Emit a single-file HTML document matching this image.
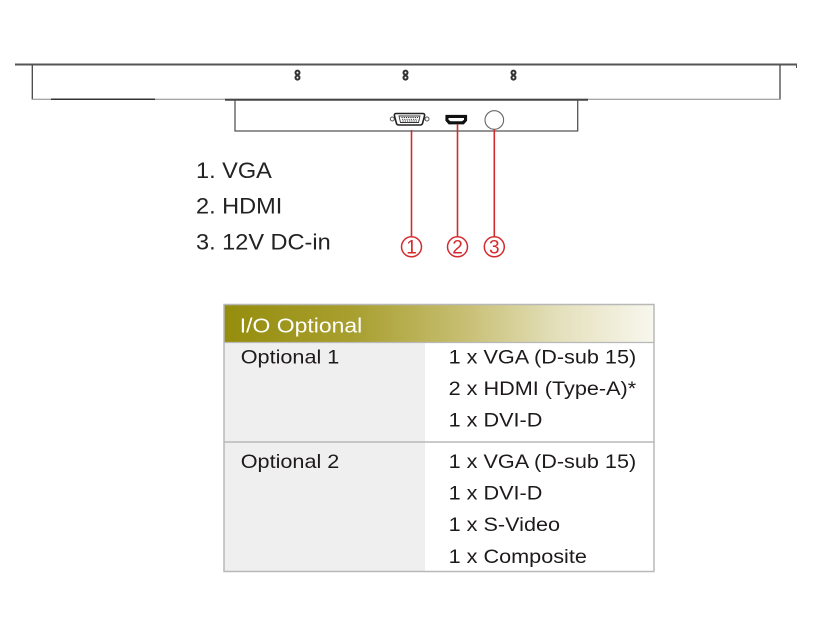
<!DOCTYPE html>
<html>
<head>
<meta charset="utf-8">
<style>
  html,body{margin:0;padding:0;background:#fff;}
  body{width:817px;height:622px;overflow:hidden;}
  svg{display:block;}
  text{font-family:"Liberation Sans", Arial, sans-serif;}
</style>
</head>
<body>
<svg width="817" height="622" viewBox="0 0 817 622" xmlns="http://www.w3.org/2000/svg">
  <defs>
    <linearGradient id="hdr" x1="0" y1="0" x2="1" y2="0">
      <stop offset="0" stop-color="#958d0c"/>
      <stop offset="0.3" stop-color="#a89f30"/>
      <stop offset="0.55" stop-color="#c6bd70"/>
      <stop offset="0.78" stop-color="#e4e0bc"/>
      <stop offset="1" stop-color="#f8f7ee"/>
    </linearGradient>
  </defs>

  <!-- top plate -->
  <line x1="15" y1="64.5" x2="797" y2="64.5" stroke="#555" stroke-width="2"/>
  <line x1="796.5" y1="64" x2="796.5" y2="68" stroke="#555" stroke-width="1"/>
  <line x1="32.3" y1="65" x2="32.3" y2="99.5" stroke="#444" stroke-width="1.3"/>
  <line x1="780" y1="65" x2="780" y2="99.5" stroke="#444" stroke-width="1.3"/>
  <line x1="32" y1="99.3" x2="780" y2="99.3" stroke="#888" stroke-width="1"/>
  <line x1="51" y1="99.3" x2="155" y2="99.3" stroke="#333" stroke-width="1.5"/>
  <line x1="225" y1="99.8" x2="588" y2="99.8" stroke="#444" stroke-width="2"/>

  <!-- screws -->
  <g fill="none" stroke="#333" stroke-width="2">
    <circle cx="297.5" cy="72.6" r="2"/><circle cx="297.5" cy="77.6" r="2"/>
    <circle cx="405.5" cy="72.6" r="2"/><circle cx="405.5" cy="77.6" r="2"/>
    <circle cx="513.5" cy="72.6" r="2"/><circle cx="513.5" cy="77.6" r="2"/>
  </g>

  <!-- lower box -->
  <path d="M235 100 V131 H577.7 V100" fill="none" stroke="#555" stroke-width="1.3"/>

  <!-- VGA connector -->
  <circle cx="392.3" cy="119" r="2" fill="none" stroke="#555" stroke-width="1"/>
  <circle cx="427" cy="119" r="2" fill="none" stroke="#555" stroke-width="1"/>
  <path d="M396 113.5 H423 Q425 113.5 424.5 116 L422.5 123.5 Q422 125 420 125 H399 Q397 125 396.5 123.5 L394.5 116 Q394 113.5 396 113.5 Z" fill="#fff" stroke="#222" stroke-width="1.6"/>
  <path d="M399 116 H420 L418.5 122.5 H400.5 Z" fill="#fff" stroke="#333" stroke-width="0.9"/>
  <g stroke="#333" stroke-width="0.9">
    <line x1="401.5" y1="117.5" x2="418" y2="117.5" stroke-dasharray="1.2 1"/>
    <line x1="402" y1="119.3" x2="417.5" y2="119.3" stroke-dasharray="1.2 1"/>
    <line x1="402.5" y1="121" x2="417" y2="121" stroke-dasharray="1.2 1"/>
  </g>

  <!-- HDMI connector -->
  <path d="M446 115.5 H466.5 V120.5 L463.5 123.8 H449 L446 120.5 Z" fill="#111" stroke="#111" stroke-width="1.2" stroke-linejoin="round"/>
  <path d="M448.5 118 H464 V119.8 L462 121.3 H450.5 L448.5 119.8 Z" fill="#fff"/>

  <!-- DC jack -->
  <circle cx="494.3" cy="120" r="9.3" fill="#fff" stroke="#666" stroke-width="1.1"/>

  <!-- red leader lines -->
  <g stroke="#d42a2e" stroke-width="1.6">
    <line x1="411.5" y1="130" x2="411.5" y2="236.5"/>
    <line x1="457.5" y1="124" x2="457.5" y2="236.5"/>
    <line x1="494.3" y1="129.5" x2="494.3" y2="236.5"/>
  </g>
  <g fill="none" stroke="#d42a2e" stroke-width="1.5">
    <circle cx="411.5" cy="246.8" r="10"/>
    <circle cx="457.5" cy="246.8" r="10"/>
    <circle cx="494.3" cy="246.8" r="10"/>
  </g>
  <g fill="#d42a2e" font-size="19" text-anchor="middle">
    <text x="411.5" y="253.6">1</text>
    <text x="457.5" y="253.6">2</text>
    <text x="494.3" y="253.6">3</text>
  </g>

  <!-- left labels -->
  <g fill="#222" font-size="22">
    <text transform="translate(196,178) scale(1.07,1)">1. VGA</text>
    <text transform="translate(196,213.5) scale(1.07,1)">2. HDMI</text>
    <text transform="translate(196,249.5) scale(1.07,1)">3. 12V DC-in</text>
  </g>

  <!-- table -->
  <rect x="224" y="304.5" width="430" height="38" fill="url(#hdr)"/>
  <rect x="224" y="342.5" width="201" height="229" fill="#efefef"/>
  <rect x="224" y="304.5" width="430" height="267" fill="none" stroke="#b8b8b8" stroke-width="1.5"/>
  <line x1="224" y1="342.5" x2="654" y2="342.5" stroke="#b8b8b8" stroke-width="1.2"/>
  <line x1="224" y1="442" x2="654" y2="442" stroke="#b8b8b8" stroke-width="1.5"/>

  <text fill="#ffffff" font-size="20.5" transform="translate(239.8,332.7) scale(1.12,1)">I/O Optional</text>

  <g fill="#1e1a1b" font-size="19.5">
    <text transform="translate(240.7,363.3) scale(1.11,1)">Optional 1</text>
    <text transform="translate(448.6,363.3) scale(1.11,1)">1 x VGA (D-sub 15)</text>
    <text transform="translate(448.6,394.9) scale(1.11,1)">2 x HDMI (Type-A)*</text>
    <text transform="translate(448.6,426.5) scale(1.11,1)">1 x DVI-D</text>

    <text transform="translate(240.7,468) scale(1.11,1)">Optional 2</text>
    <text transform="translate(448.6,468) scale(1.11,1)">1 x VGA (D-sub 15)</text>
    <text transform="translate(448.6,499.6) scale(1.11,1)">1 x DVI-D</text>
    <text transform="translate(448.6,531.2) scale(1.11,1)">1 x S-Video</text>
    <text transform="translate(448.6,562.8) scale(1.11,1)">1 x Composite</text>
  </g>
</svg>
</body>
</html>
